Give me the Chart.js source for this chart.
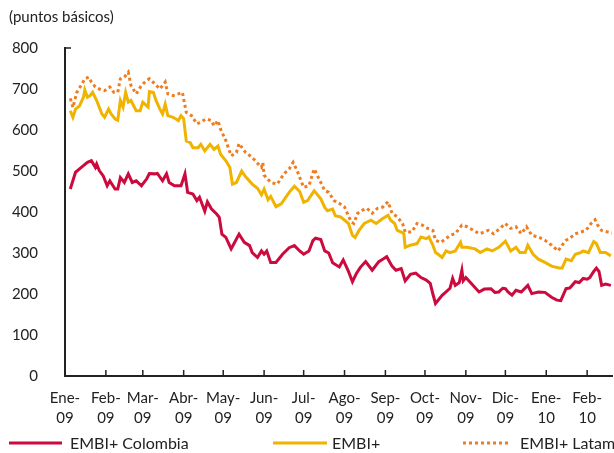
<html>
<body style="margin:0;background:#fff">
<div style="width:614px;height:453px"><canvas id="grafico"></canvas></div>
<script src="https://cdn.jsdelivr.net/npm/chart.js@4.4.1/dist/chart.umd.min.js"></script>
<script>
// dias contados desde el 1 de enero de 2009
const mesesDia = [0, 31, 59, 90, 120, 151, 181, 212, 243, 273, 304, 334, 365, 396];
const mesesEtiqueta = [["Ene-","09"],["Feb-","09"],["Mar-","09"],["Abr-","09"],["May-","09"],["Jun-","09"],["Jul-","09"],["Ago-","09"],["Sep-","09"],["Oct-","09"],["Nov-","09"],["Dic-","09"],["Ene-","10"],["Feb-","10"]];

const diasColombia = [4,8,11,14,17,20,23,24,26,29,32,34,38,40,42,45,48,51,54,58,62,64,68,70,74,77,79,83,88,91,93,97,100,102,106,108,111,115,117,119,122,126,128,132,136,140,142,146,149,151,153,156,160,165,170,174,178,181,185,188,190,194,197,200,203,208,211,215,218,221,224,228,233,238,241,244,248,251,255,258,262,266,270,274,277,279,281,286,289,292,294,296,299,301,302,304,308,314,318,323,326,329,332,334,336,339,342,346,351,354,359,364,369,373,376,380,383,387,390,393,396,398,401,403,405,407,410,414];
const colombia = [456,497,505,513,521,525,509,517,501,488,464,476,456,456,484,472,493,472,476,464,481,494,493,494,476,493,472,464,464,493,448,444,428,436,402,425,408,395,387,346,338,310,322,346,326,318,301,289,305,297,305,277,277,297,313,318,305,297,305,330,336,333,305,300,276,266,283,255,230,250,265,279,258,279,285,291,268,258,262,232,248,251,240,234,226,200,177,197,205,214,238,221,228,258,232,240,226,205,212,213,204,205,214,213,205,197,209,205,221,201,205,204,192,185,184,213,215,230,228,238,236,240,255,263,255,221,224,221];

const diasEmbi = [4,6,8,11,14,15,17,19,21,24,28,30,33,35,38,40,42,44,46,48,50,54,57,59,63,64,67,69,72,74,76,78,82,86,88,90,92,95,97,101,103,106,110,113,116,118,122,125,127,130,134,137,142,146,149,151,154,156,160,164,170,174,178,181,184,189,192,194,197,199,203,205,209,215,218,220,223,227,232,236,241,245,247,250,252,255,257,258,262,267,270,274,276,279,281,283,286,289,292,296,300,301,305,311,315,320,324,329,334,338,342,345,349,351,355,359,364,369,374,377,380,384,387,391,393,397,401,403,406,410,414];
const embi = [647,631,651,659,680,698,680,684,692,672,639,631,651,639,627,624,672,656,692,668,672,647,647,668,656,694,692,672,651,639,663,635,631,623,635,627,573,569,557,557,565,549,565,553,561,541,525,509,468,472,500,486,468,458,442,456,430,438,413,420,448,463,450,424,428,452,440,432,411,403,407,391,388,372,343,338,355,372,380,372,384,392,380,372,355,351,347,314,319,323,339,335,339,319,301,297,289,305,301,305,326,314,314,310,301,310,305,314,329,305,314,301,301,319,297,285,277,268,264,263,285,281,297,301,305,301,328,323,301,301,293];

const diasLatam = [4,6,9,13,15,18,20,23,26,30,34,37,40,42,45,48,50,54,58,62,64,68,72,76,78,82,86,89,92,96,100,103,107,111,113,116,118,122,126,130,132,137,142,146,149,150,151,156,161,166,170,173,176,179,181,185,189,192,194,197,200,204,208,212,217,219,222,226,229,233,237,241,245,248,252,256,258,263,267,271,275,279,281,285,289,292,296,301,305,310,314,318,321,325,330,334,338,342,346,350,354,359,364,369,374,377,380,384,387,391,395,399,402,404,407,412,415];
const latam = [677,655,692,713,725,729,717,705,700,696,705,692,692,725,729,741,709,688,709,721,725,713,700,717,688,684,688,692,643,635,615,619,627,623,610,623,602,574,537,545,567,545,533,519,509,521,490,472,468,493,505,521,501,476,460,464,505,485,472,452,448,428,421,412,376,372,397,405,409,397,409,412,425,397,388,372,351,351,372,368,360,355,331,326,335,343,347,368,364,355,347,351,355,347,360,372,360,364,347,364,343,339,331,319,305,319,331,339,347,351,355,372,381,368,355,351,349];

const serie = (dias, valores) => dias.map((d, i) => ({x: d, y: valores[i]}));

const marco = {
  id: 'marco',
  afterDraw(chart) {
    const {ctx, chartArea: a, scales: {x, y}} = chart;
    ctx.save();
    ctx.strokeStyle = '#222';
    ctx.lineWidth = 1.5;
    ctx.beginPath();
    mesesDia.forEach(d => {
      const px = x.getPixelForValue(d);
      ctx.moveTo(px, a.bottom);
      ctx.lineTo(px, a.bottom - 6);
    });
    const top = y.getPixelForValue(800);
    ctx.moveTo(a.left, top);
    ctx.lineTo(a.left + 6, top);
    ctx.stroke();

    ctx.fillStyle = '#222';
    ctx.font = '15px Lato';
    ctx.textBaseline = 'middle';
    ctx.fillText('(puntos básicos)', 9, 17);

    // leyenda
    ctx.font = '16px Lato';
    const pos = [[9, 62, 70], [273, 327, 332], [463, 508, 520]];
    chart.data.datasets.forEach((ds, i) => {
      const [x0, x1, xt] = pos[i];
      ctx.strokeStyle = ds.borderColor;
      ctx.lineWidth = 3;
      ctx.setLineDash(ds.borderDash || []);
      ctx.beginPath();
      ctx.moveTo(x0, 443);
      ctx.lineTo(x1, 443);
      ctx.stroke();
      ctx.setLineDash([]);
      ctx.fillText(ds.label, xt, 444);
    });
    ctx.restore();
  }
};

new Chart("grafico", {
  type: "line",
  data: {
    datasets: [{
      label: "EMBI+ Colombia",
      data: serie(diasColombia, colombia),
      borderColor: "#CC0A3E",
      borderWidth: 3
    },{
      label: "EMBI+",
      data: serie(diasEmbi, embi),
      borderColor: "#F0B400",
      borderWidth: 3
    },{
      label: "EMBI+ Latam",
      data: serie(diasLatam, latam),
      borderColor: "#EE7D22",
      borderWidth: 3,
      borderDash: [3, 3]
    }]
  },
  options: {
    responsive: true,
    maintainAspectRatio: false,
    animation: false,
    elements: { point: { radius: 0 }, line: { tension: 0, borderCapStyle: 'butt' } },
    layout: { padding: { top: 48, right: 0, bottom: 25, left: 0 } },
    plugins: { legend: { display: false }, tooltip: { enabled: false } },
    scales: {
      x: {
        type: "linear",
        min: 0,
        max: 415,
        afterBuildTicks: s => { s.ticks = mesesDia.map(v => ({value: v})); },
        afterFit: s => { s.height = 52; },
        grid: { display: false, drawTicks: false },
        border: { display: true, color: "#222", width: 2 },
        ticks: {
          autoSkip: false,
          maxRotation: 0,
          padding: 12,
          color: "#222",
          font: { family: "Lato", size: 15, lineHeight: 1.33 },
          callback: (v, i) => mesesEtiqueta[i]
        }
      },
      y: {
        min: 0,
        max: 800,
        afterFit: s => { s.width = 65; },
        grid: { display: false, drawTicks: false },
        border: { display: true, color: "#222", width: 2 },
        ticks: {
          stepSize: 100,
          padding: 27,
          color: "#222",
          font: { family: "Lato", size: 15 }
        }
      }
    }
  },
  plugins: [marco]
});
</script>
</body>
</html>
